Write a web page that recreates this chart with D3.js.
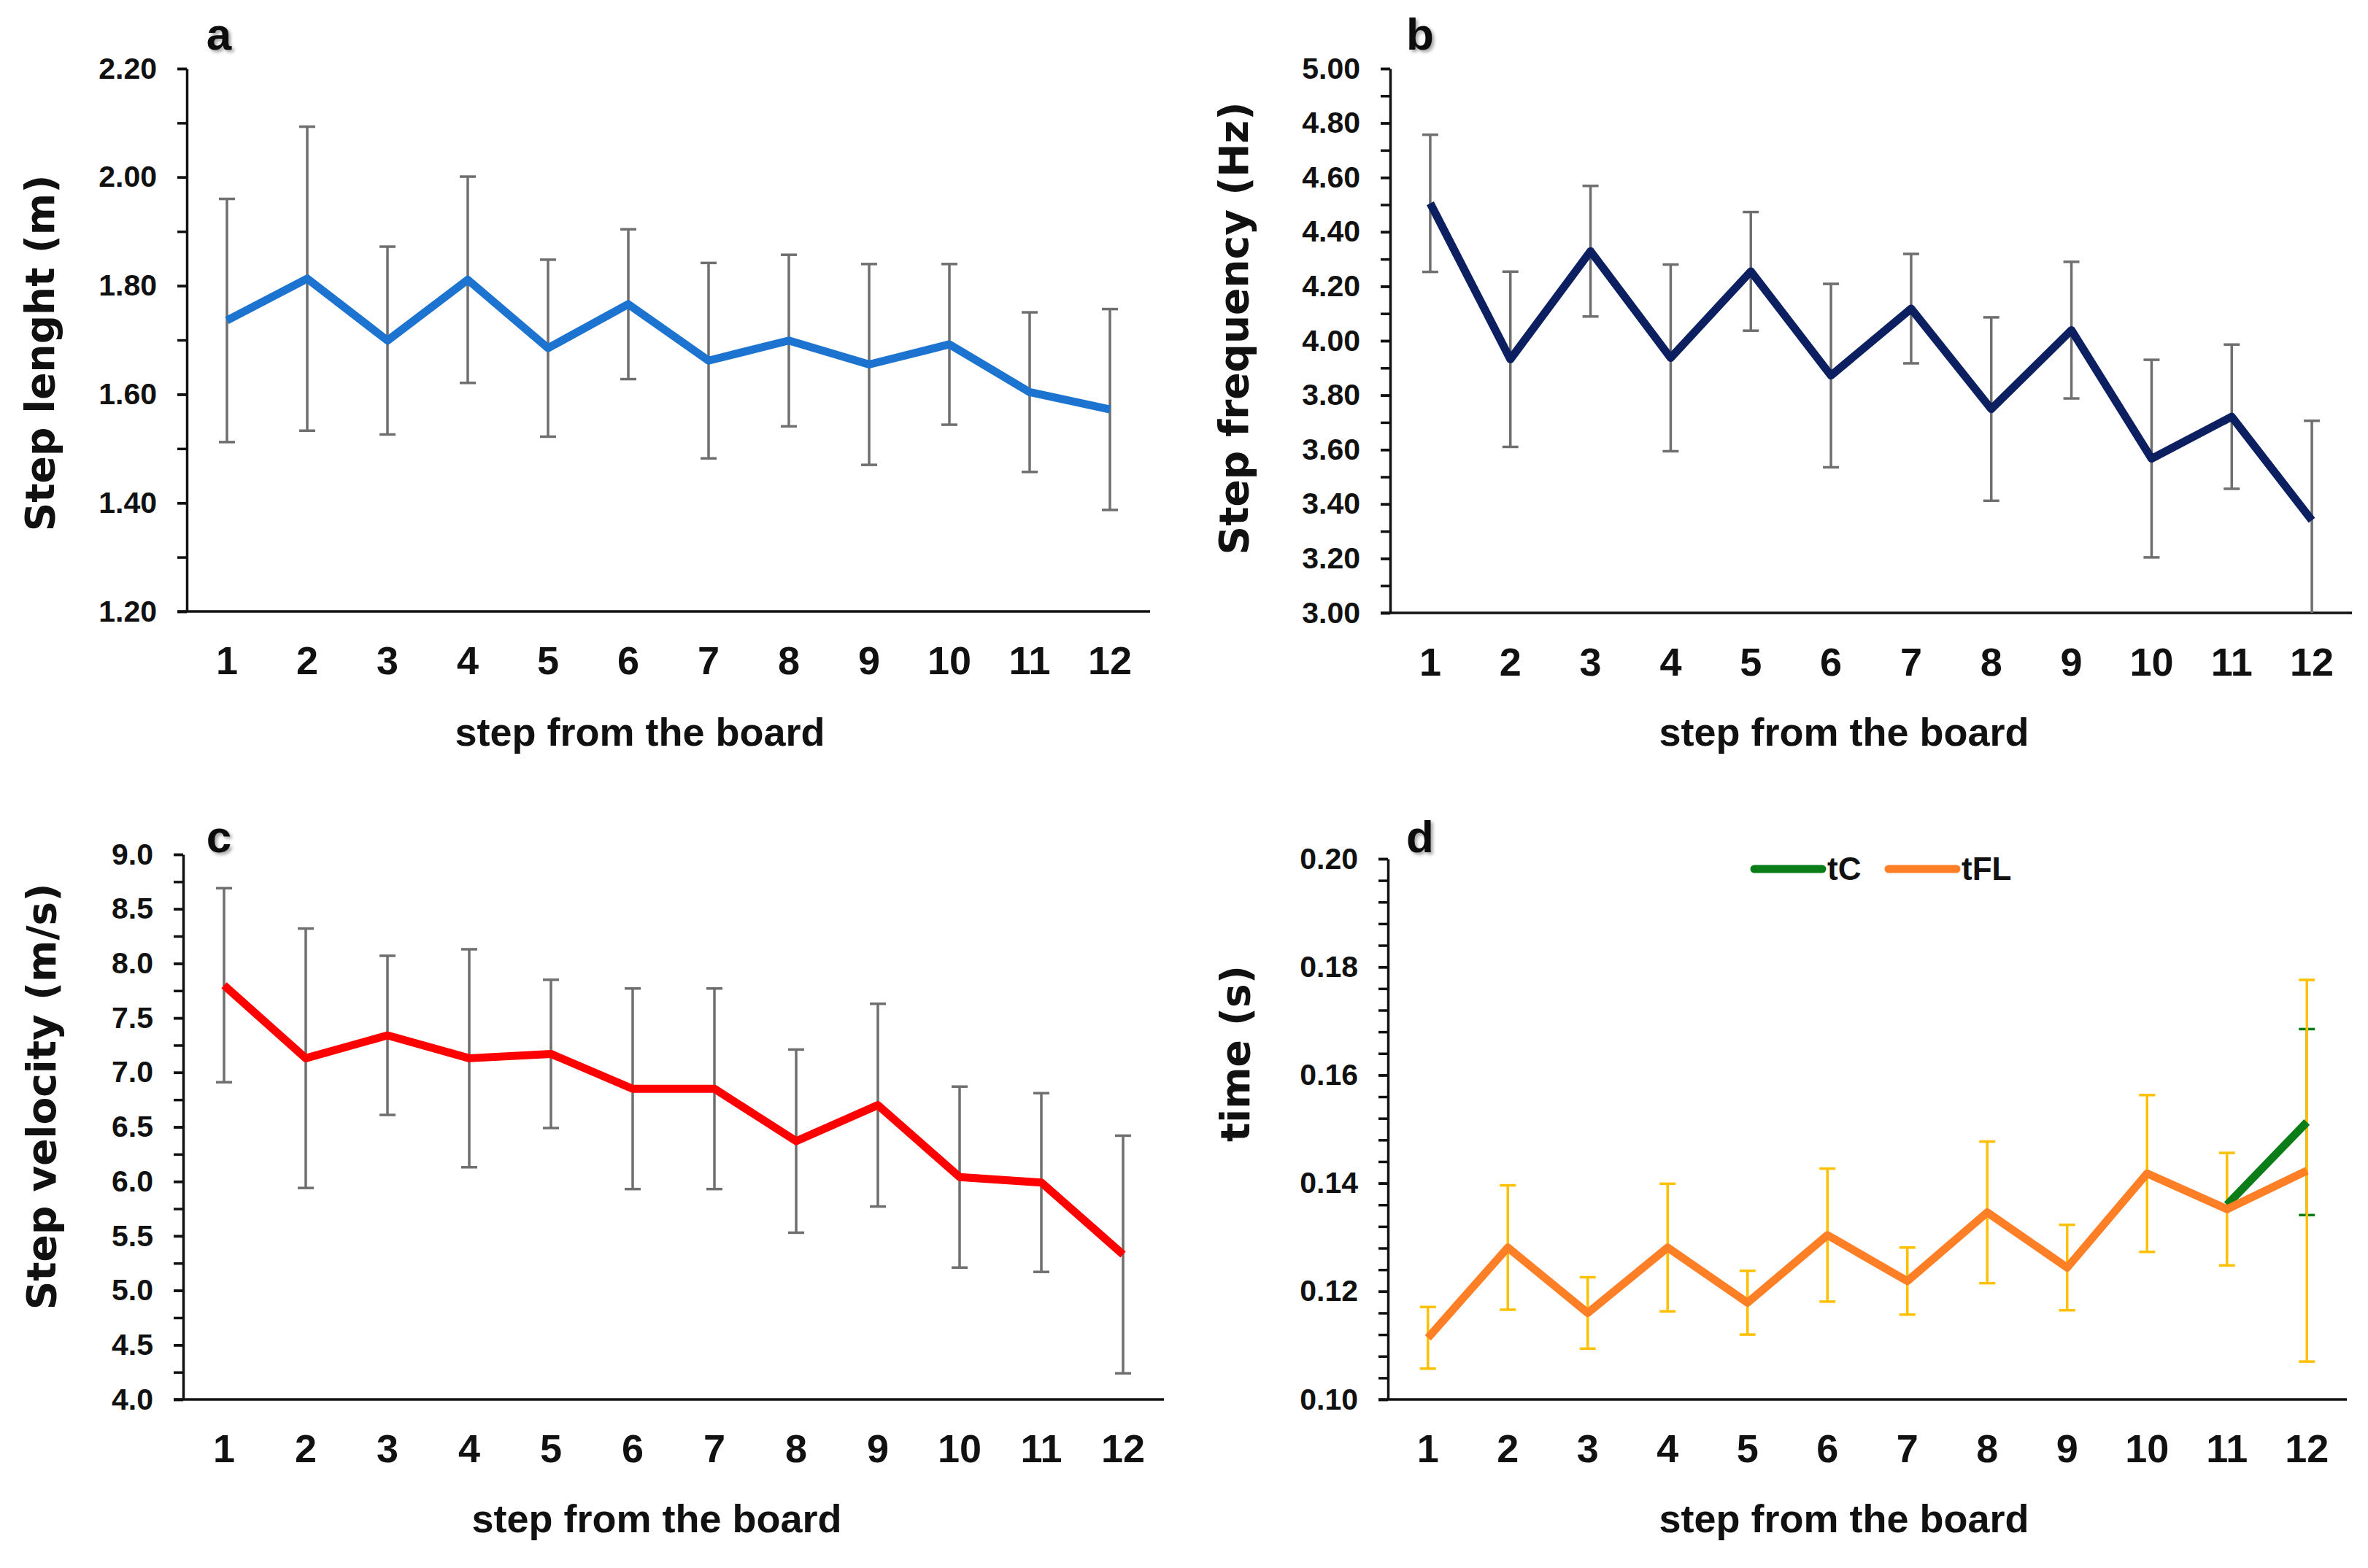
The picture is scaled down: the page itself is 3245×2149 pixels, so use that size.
<!DOCTYPE html>
<html>
<head>
<meta charset="utf-8">
<script src="https://cdn.jsdelivr.net/npm/d3@7"></script>
<style>
  body { margin: 0; background: #fff; }
  svg { display: block; }
</style>
</head>
<body>
<script>
// four panels: step length, step frequency, step velocity, contact / flight time

var width = 3245;
var height = 2149;

// categories
var steps = ["1", "2", "3", "4", "5", "6", "7", "8", "9", "10", "11", "12"];

// a - step length (m)
var lengthMean = [1.736, 1.813, 1.699, 1.811, 1.685, 1.766, 1.662, 1.699, 1.655, 1.692, 1.604, 1.572];
var lengthSd   = [0.224, 0.280, 0.173, 0.190, 0.163, 0.138, 0.180, 0.158, 0.185, 0.148, 0.147, 0.185];
var lengthLabels = [1.2, 1.4, 1.6, 1.8, 2.0, 2.2];

// b - step frequency (Hz)
var freqMean = [4.505, 3.932, 4.329, 3.937, 4.255, 3.872, 4.118, 3.749, 4.039, 3.567, 3.721, 3.340];
var freqSd   = [0.252, 0.322, 0.240, 0.343, 0.218, 0.337, 0.201, 0.337, 0.251, 0.363, 0.265, 0.366];
var freqLabels = [3.0, 3.2, 3.4, 3.6, 3.8, 4.0, 4.2, 4.4, 4.6, 4.8, 5.0];

// c - step velocity (m/s)
var velMean = [7.80, 7.13, 7.34, 7.13, 7.17, 6.85, 6.85, 6.37, 6.70, 6.04, 5.99, 5.33];
var velSd   = [0.89, 1.19, 0.73, 1.00, 0.68, 0.92, 0.92, 0.84, 0.93, 0.83, 0.82, 1.09];
var velLabels = [4.0, 4.5, 5.0, 5.5, 6.0, 6.5, 7.0, 7.5, 8.0, 8.5, 9.0];

// d - time (s)
var tflMean = [0.1114, 0.1281, 0.1160, 0.1281, 0.1179, 0.1304, 0.1219, 0.1346, 0.1244, 0.1418, 0.1352, 0.1423];
var tflSd   = [0.0057, 0.0115, 0.0066, 0.0118, 0.0059, 0.0123, 0.0062, 0.0131, 0.0079, 0.0145, 0.0104, 0.0353];
var tcMean  = [null, null, null, null, null, null, null, null, null, null, 0.1360, 0.1513];
var tcSd    = [null, null, null, null, null, null, null, null, null, null, null, 0.0172];
var timeLabels = [0.10, 0.12, 0.14, 0.16, 0.18, 0.20];

var fontMain = "'Liberation Sans', Arial, sans-serif";
var fontTitle = "'DejaVu Sans', Verdana, sans-serif";

var svg = d3.select("body")
  .append("svg")
  .attr("width", width)
  .attr("height", height)
  .style("background", "#fff");

var defs = svg.append("defs");
var shadow = defs.append("filter").attr("id", "shadow")
  .attr("x", "-30%").attr("y", "-30%").attr("width", "160%").attr("height", "160%");
shadow.append("feDropShadow")
  .attr("dx", 3).attr("dy", 3).attr("stdDeviation", 2)
  .attr("flood-color", "#000").attr("flood-opacity", 0.35);

var panels = [
  {
    letter: "a", x0: 256, x1: 1576, yTop: 94, yBot: 838,
    domain: [1.2, 2.2], labels: lengthLabels, minorStep: 0.1, fmt: ".2f",
    title: "Step lenght (m)", titleX: 74, titleY: 484, xTitleX: 877, xTitleY: 1022,
    letterX: 300, letterY: 68,
    series: [{ mean: lengthMean, sd: lengthSd, color: "#1C74D0", err: "#6f6f6f" }]
  },
  {
    letter: "b", x0: 1905, x1: 3223, yTop: 94, yBot: 840,
    domain: [3.0, 5.0], labels: freqLabels, minorStep: 0.1, fmt: ".2f",
    title: "Step frequency (Hz)", titleX: 1710, titleY: 450, xTitleX: 2527, xTitleY: 1022,
    letterX: 1946, letterY: 68,
    series: [{ mean: freqMean, sd: freqSd, color: "#0C1F60", err: "#6f6f6f" }]
  },
  {
    letter: "c", x0: 251, x1: 1595, yTop: 1171, yBot: 1918,
    domain: [4.0, 9.0], labels: velLabels, minorStep: 0.25, fmt: ".1f",
    title: "Step velocity (m/s)", titleX: 76, titleY: 1503, xTitleX: 900, xTitleY: 2100,
    letterX: 300, letterY: 1168,
    series: [{ mean: velMean, sd: velSd, color: "#FF0000", err: "#6f6f6f" }]
  },
  {
    letter: "d", x0: 1902, x1: 3216, yTop: 1177, yBot: 1918,
    domain: [0.10, 0.20], labels: timeLabels, minorStep: 0.004, fmt: ".2f",
    title: "time (s)", titleX: 1712, titleY: 1444, xTitleX: 2527, xTitleY: 2100,
    letterX: 1946, letterY: 1168,
    series: [
      { mean: tcMean, sd: tcSd, color: "#0A7D18", err: "#0A7D18", name: "tC" },
      { mean: tflMean, sd: tflSd, color: "#FF7F27", err: "#FFC000", name: "tFL" }
    ]
  }
];

panels.forEach(function(p, pi) {
  var g = svg.append("g");

  var xScale = d3.scaleBand()
    .domain(steps)
    .range([p.x0, p.x1]);

  var yScale = d3.scaleLinear()
    .domain(p.domain)
    .range([p.yBot, p.yTop]);

  var nMinor = Math.round((p.domain[1] - p.domain[0]) / p.minorStep);
  var minorTicks = d3.range(0, nMinor + 1).map(function(i) { return p.domain[0] + i * p.minorStep; });

  // minor ticks + axis line
  var yMinor = g.append("g")
    .attr("transform", "translate(" + p.x0 + ",0)")
    .call(d3.axisLeft(yScale).tickValues(minorTicks).tickSize(13).tickSizeOuter(0).tickFormat(""));
  yMinor.selectAll("line").attr("stroke", "#111").attr("stroke-width", 3.5);
  yMinor.select(".domain").attr("stroke", "#111").attr("stroke-width", 3.5);

  // labelled ticks
  var yMajor = g.append("g")
    .attr("transform", "translate(" + p.x0 + ",0)")
    .call(d3.axisLeft(yScale).tickValues(p.labels).tickSize(13).tickPadding(28)
      .tickSizeOuter(0).tickFormat(d3.format(p.fmt)));
  yMajor.select(".domain").remove();
  yMajor.selectAll("line").attr("stroke", "#111").attr("stroke-width", 3.5);
  yMajor.selectAll("text")
    .attr("font-family", fontMain).attr("font-weight", "bold")
    .attr("font-size", 41).attr("fill", "#111");

  // x axis
  g.append("line")
    .attr("x1", p.x0 - 13).attr("x2", p.x1)
    .attr("y1", p.yBot).attr("y2", p.yBot)
    .attr("stroke", "#111").attr("stroke-width", 3.5);

  var xAxis = g.append("g")
    .attr("transform", "translate(0," + p.yBot + ")")
    .call(d3.axisBottom(xScale).tickSize(0).tickPadding(48));
  xAxis.select(".domain").remove();
  xAxis.selectAll("text")
    .attr("font-family", fontMain).attr("font-weight", "bold")
    .attr("font-size", 54).attr("fill", "#111");

  // titles
  g.append("text")
    .attr("transform", "translate(" + p.titleX + "," + p.titleY + ") rotate(-90)")
    .attr("text-anchor", "middle")
    .attr("font-family", fontTitle).attr("font-weight", "bold")
    .attr("font-size", 55).attr("fill", "#111")
    .text(p.title);

  g.append("text")
    .attr("x", p.xTitleX).attr("y", p.xTitleY)
    .attr("text-anchor", "middle")
    .attr("font-family", fontMain).attr("font-weight", "bold")
    .attr("font-size", 54).attr("fill", "#111")
    .text("step from the board");

  g.append("text")
    .attr("x", p.letterX).attr("y", p.letterY)
    .attr("text-anchor", "middle")
    .attr("font-family", fontMain).attr("font-weight", "bold")
    .attr("font-size", 62).attr("fill", "#111")
    .attr("filter", "url(#shadow)")
    .text(p.letter);

  // clip for error bars running past the axis
  var clipId = "clip" + pi;
  defs.append("clipPath").attr("id", clipId)
    .append("rect")
    .attr("x", p.x0).attr("y", p.yTop - 60)
    .attr("width", p.x1 - p.x0).attr("height", p.yBot - p.yTop + 60);

  var plot = g.append("g").attr("clip-path", "url(#" + clipId + ")");

  function cx(i) { return xScale(steps[i]) + xScale.bandwidth() / 2; }

  // error bars first
  p.series.forEach(function(s) {
    var pts = steps.map(function(st, i) { return { i: i, m: s.mean[i], sd: s.sd[i] }; })
      .filter(function(d) { return d.m != null && d.sd != null; });
    var eg = plot.append("g").attr("stroke", s.err).attr("stroke-width", 3.5);
    eg.selectAll("line.v").data(pts).enter().append("line")
      .attr("x1", function(d) { return cx(d.i); })
      .attr("x2", function(d) { return cx(d.i); })
      .attr("y1", function(d) { return yScale(d.m + d.sd); })
      .attr("y2", function(d) { return yScale(d.m - d.sd); });
    [1, -1].forEach(function(sign) {
      eg.selectAll("line.c" + sign).data(pts).enter().append("line")
        .attr("x1", function(d) { return cx(d.i) - 11; })
        .attr("x2", function(d) { return cx(d.i) + 11; })
        .attr("y1", function(d) { return yScale(d.m + sign * d.sd); })
        .attr("y2", function(d) { return yScale(d.m + sign * d.sd); });
    });
  });

  // lines
  p.series.forEach(function(s) {
    var line = d3.line()
      .defined(function(d) { return d != null; })
      .x(function(d, i) { return cx(i); })
      .y(function(d) { return yScale(d); });
    plot.append("path")
      .datum(s.mean)
      .attr("d", line)
      .attr("fill", "none")
      .attr("stroke", s.color)
      .attr("stroke-width", 11)
      .attr("stroke-linejoin", "round");
  });

  // legend (panel d only)
  if (p.series.length > 1) {
    var legX = [2404, 2588];
    p.series.forEach(function(s, k) {
      g.append("line")
        .attr("x1", legX[k]).attr("x2", legX[k] + 93)
        .attr("y1", 1191).attr("y2", 1191)
        .attr("stroke", s.color).attr("stroke-width", 11)
        .attr("stroke-linecap", "round");
      g.append("text")
        .attr("x", legX[k] + 100).attr("y", 1206)
        .attr("font-family", fontMain).attr("font-weight", "bold")
        .attr("font-size", 44).attr("fill", "#111")
        .text(s.name);
    });
  }
});
</script>
</body>
</html>
